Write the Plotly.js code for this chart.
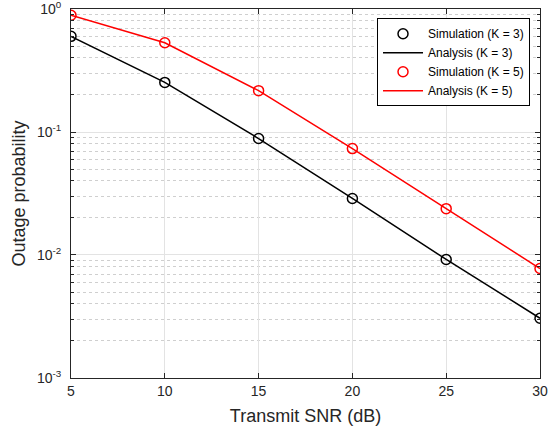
<!DOCTYPE html>
<html>
<head>
<meta charset="utf-8">
<script src="https://cdn.plot.ly/plotly-3.0.1.min.js"></script>
<style>html,body{margin:0;padding:0;background:#fff;}#chart{width:560px;height:432px;}</style>
</head>
<body>
<div id="chart"></div>
<script>
var snr = [5, 10, 15, 20, 25, 30];
var simK3 = [0.60, 0.253, 0.0885, 0.0288, 0.0092, 0.00306];
var anaK3 = [0.60, 0.253, 0.0885, 0.0288, 0.0092, 0.00306];
var simK5 = [0.89, 0.532, 0.217, 0.0733, 0.0238, 0.00776];
var anaK5 = [0.89, 0.532, 0.217, 0.0733, 0.0238, 0.00776];
var yTickVals = [0.001, 0.01, 0.1, 1];
var yTickText = ['10<sup>-3</sup>', '10<sup>-2</sup>', '10<sup>-1</sup>', '10<sup>0</sup>'];
var xTickVals = [5, 10, 15, 20, 25, 30];
var yMinorVals = [0.002,0.003,0.004,0.005,0.006,0.007,0.008,0.009,
                  0.02,0.03,0.04,0.05,0.06,0.07,0.08,0.09,
                  0.2,0.3,0.4,0.5,0.6,0.7,0.8,0.9];

var font = 'Liberation Sans, Arial, sans-serif';
var axColor = '#262626';

var traces = [
  {x: snr, y: simK3, mode: 'markers', name: 'Simulation (K = 3)',
   marker: {symbol: 'circle-open', size: 10, color: '#000', line: {width: 1.5, color: '#000'}}},
  {x: snr, y: anaK3, mode: 'lines', name: 'Analysis (K = 3)',
   line: {color: '#000', width: 1.5}},
  {x: snr, y: simK5, mode: 'markers', name: 'Simulation (K = 5)',
   marker: {symbol: 'circle-open', size: 10, color: '#ff0000', line: {width: 1.5, color: '#ff0000'}}},
  {x: snr, y: anaK5, mode: 'lines', name: 'Analysis (K = 5)',
   line: {color: '#ff0000', width: 1.5}}
];

var layout = {
  width: 560, height: 432,
  margin: {l: 71, r: 20, t: 9, b: 54},
  paper_bgcolor: '#fff', plot_bgcolor: '#fff',
  font: {family: font, color: axColor, size: 14},
  showlegend: true,
  legend: {
    x: 0.9787, y: 0.975, xanchor: 'right', yanchor: 'top',
    bgcolor: '#fff', bordercolor: '#000', borderwidth: 1,
    font: {family: font, size: 12, color: '#000'},
    itemwidth: 40, tracegroupgap: 0
  },
  xaxis: {
    range: [5, 30], tickvals: xTickVals,
    showline: true, linecolor: axColor, linewidth: 1, mirror: 'ticks',
    ticks: 'inside', ticklen: 5, tickcolor: axColor,
    showgrid: true, gridcolor: '#e3e3e3', gridwidth: 1,
    zeroline: false, ticklabeloverflow: 'allow',
    tickfont: {family: font, size: 14, color: axColor},
    title: {text: 'Transmit SNR (dB)', font: {family: font, size: 18, color: axColor}, standoff: 11}
  },
  yaxis: {
    type: 'log', range: [-3.0002, 0.0002],
    tickvals: yTickVals, ticktext: yTickText,
    showline: true, linecolor: axColor, linewidth: 1, mirror: 'ticks',
    ticks: 'inside', ticklen: 5, tickcolor: axColor,
    showgrid: true, gridcolor: '#e3e3e3', gridwidth: 1,
    zeroline: false, ticklabeloverflow: 'allow', ticklabelstandoff: 6,
    tickfont: {family: font, size: 14, color: axColor},
    minor: {ticks: 'inside', ticklen: 3, tickcolor: axColor, showgrid: true, gridcolor: '#cfcfcf', griddash: 'dot', gridwidth: 1,
            tickvals: yMinorVals},
    title: {text: 'Outage probability', font: {family: font, size: 18, color: axColor}, standoff: 6}
  }
};

Plotly.newPlot('chart', traces, layout, {displayModeBar: false, staticPlot: true});
</script>
</body>
</html>
